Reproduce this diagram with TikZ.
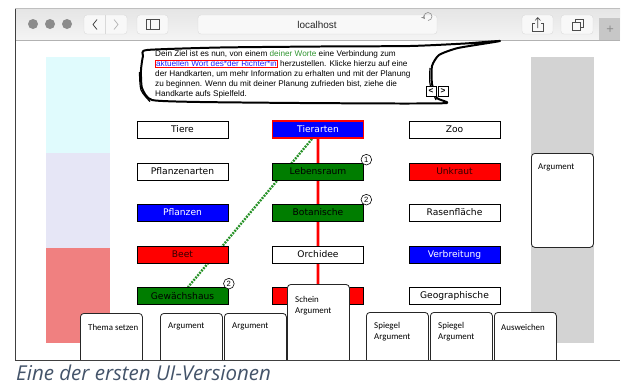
\documentclass[tikz,border=0pt]{standalone}
\usepackage{fontspec}
\setmainfont{Liberation Sans}
\newfontfamily\boxfont{DejaVu Sans}
\newfontfamily\cardfont{Carlito}
\newfontfamily\captionfont{Open Sans}
\usetikzlibrary{shadows}

\definecolor{wordblue}{RGB}{0,0,255}
\definecolor{wordred}{RGB}{255,0,0}
\definecolor{wordgreen}{RGB}{0,125,0}
\definecolor{hintgreen}{RGB}{50,150,50}
\definecolor{hintblue}{RGB}{30,30,255}
\definecolor{topiccol}{RGB}{224,251,253}
\definecolor{argcol}{RGB}{230,230,246}
\definecolor{attackcol}{RGB}{240,128,128}
\definecolor{handcol}{RGB}{211,211,211}
\definecolor{barcol}{RGB}{222,222,222}
\definecolor{btncol}{RGB}{248,248,248}
\definecolor{captioncol}{RGB}{68,84,106}

\pgfdeclarelayer{back}
\pgfdeclarelayer{links}
\pgfsetlayers{back,links,main}

\begin{document}
\begin{tikzpicture}[x=0.03cm,y=-0.03cm]
	\tikzstyle{word}=[draw=black,line width=0.6pt,minimum width=2.73cm,minimum height=0.51cm,inner sep=0pt,font=\boxfont\fontsize{7.8}{8}\selectfont,drop shadow={shadow xshift=0.6pt,shadow yshift=-0.7pt,opacity=0.45}]
	\tikzstyle{wwhite}=[word,fill=white]
	\tikzstyle{wblue}=[word,fill=wordblue,text=white]
	\tikzstyle{wred}=[word,fill=wordred,text=black!80!red]
	\tikzstyle{wgreen}=[word,fill=wordgreen,text=black]
	\tikzstyle{badge}=[circle,draw=black,fill=white,line width=0.5pt,inner sep=0pt,minimum size=0.32cm,font=\fontsize{6.5}{7}\selectfont]
	\tikzstyle{card}=[draw=black!85,fill=white,line width=0.7pt,rounded corners=3pt,minimum width=1.86cm,inner sep=0pt,anchor=north west]
	\tikzstyle{cardtext}=[anchor=north west,inner sep=0pt,align=left,font=\cardfont\fontsize{7.6}{9.4}\selectfont]
	\tikzstyle{btn}=[fill=btncol,draw=black!15,line width=0.3pt,rounded corners=2.5pt]
	\tikzstyle{navbtn}=[draw=black,fill=white,line width=0.6pt,inner sep=0pt,minimum size=0.3cm,font=\bfseries\fontsize{7}{7}\selectfont]

	\useasboundingbox (0,0) rectangle (628,387);

	\begin{pgfonlayer}{back}
		\fill[white] (0,0) rectangle (628,387);
		% browser window
		\fill[top color=barcol!80,bottom color=barcol!110!black] (15,8) rectangle (620,40);
		\fill[black!22] (599,18) rectangle (620,40);
		\draw[black!30,line width=0.4pt] (15,40) -- (620,40);
		\draw[black!75,line width=0.6pt] (15,8) -- (15,360) -- (620,360);
		\draw[black!25,line width=0.4pt] (15,8) -- (620,8);
		% side columns
		\fill[topiccol] (46,57) rectangle (110,153);
		\fill[argcol] (46,153) rectangle (110,248);
		\fill[attackcol] (46,248) rectangle (110,343);
		\fill[handcol] (531,57) rectangle (594,343);
	\end{pgfonlayer}

	% toolbar
	\foreach \x in {33,50,67}
		\fill[black!45] (\x,24) circle (5);
	\draw[btn] (84,15) rectangle (127,34);
	\draw[black!15,line width=0.4pt] (105.5,15) -- (105.5,34);
	\draw[black!80,line width=0.6pt] (97,19.5) -- (93,24.5) -- (97,29.5);
	\draw[black!30,line width=0.6pt] (114,19.5) -- (118,24.5) -- (114,29.5);
	\draw[btn] (137,15) rectangle (168,34);
	\draw[black!70,line width=0.5pt] (146.5,19.5) rectangle (159,29.5) (150.5,19.5) -- (150.5,29.5);
	\draw[btn] (198,15) rectangle (437,34);
	\node[inner sep=0pt,font=\fontsize{8.5}{9}\selectfont,text=black!85] (url) at (317,25) {localhost};
	\draw[black!45,line width=0.5pt,->,>=stealth] (428,20.5) arc (90:-220:4);
	\draw[btn] (522,15) rectangle (553,34);
	\draw[black!70,line width=0.5pt] (534.5,23) -- (532.5,23) -- (532.5,31.5) -- (543,31.5) -- (543,23) -- (541,23);
	\draw[black!70,line width=0.5pt] (537.75,28) -- (537.75,17.5) (535,20.5) -- (537.75,17.5) -- (540.5,20.5);
	\draw[btn] (561,15) rectangle (593,34);
	\draw[black!70,line width=0.5pt] (572,22) rectangle (580.5,30.5);
	\draw[black!70,line width=0.5pt] (575,22) -- (575,19) -- (583.5,19) -- (583.5,27.5) -- (580.5,27.5);
	\node[inner sep=0pt,font=\fontsize{11}{11}\selectfont,text=black!45] (newtab) at (610,30) {+};

	% speech bubble
	\draw[line width=1.7pt,line join=round,fill=white] plot[smooth cycle,tension=0.35] coordinates {(147,50) (220,47.5) (320,46.5) (410,46) (465,43.5) (500,41) (458,48) (439,55) (432,66) (432,84) (437,98) (447,103) (400,103.5) (300,103) (200,102) (152,100) (142,88) (141,70) (143,56)};
	\draw[line width=1pt] plot[smooth,tension=0.5] coordinates {(150,101.5) (141,90) (139.5,72)};
	\draw[line width=1pt] plot[smooth,tension=0.5] coordinates {(430,68) (430,84) (436,100)};
	\node[anchor=north west,inner sep=0pt,align=left,font=\fontsize{7}{8.4}\selectfont] (hint) at (155,50.5)
		{Dein Ziel ist es nun, von einem \textcolor{hintgreen}{deiner Worte} eine Verbindung zum\\
		{\fboxsep=0.3pt\fboxrule=0.5pt\fcolorbox{wordred}{white}{\textcolor{hintblue}{aktuellen Wort des*der Richter*in}}} herzustellen. Klicke hierzu auf eine\\
		der Handkarten, um mehr Information zu erhalten und mit der Planung\\
		zu beginnen. Wenn du mit deiner Planung zufrieden bist, ziehe die\\
		Handkarte aufs Spielfeld.};
	\node[navbtn] (prev) at (431,91) {<};
	\node[navbtn] (next) at (443,91) {>};

	% words
	\node[wwhite] (b11) at (182.5,129.5) {Tiere};
	\node[wwhite] (b12) at (182.5,171.5) {Pflanzenarten};
	\node[wblue] (b13) at (182.5,212.5) {Pflanzen};
	\node[wred] (b14) at (182.5,254.5) {Beet};
	\node[wgreen] (b15) at (182.5,296) {Gewächshaus};

	\node[wblue,draw=wordred,line width=1.5pt] (b21) at (318,129.5) {Tierarten};
	\node[wgreen] (b22) at (318,171.5) {Lebensraum};
	\node[wgreen] (b23) at (318,212.5) {Botanische};
	\node[wwhite] (b24) at (318,254.5) {Orchidee};
	\node[wred] (b25) at (318,296) {};

	\node[wwhite] (b31) at (454.5,129.5) {Zoo};
	\node[wred] (b32) at (454.5,171.5) {Unkraut};
	\node[wwhite] (b33) at (454.5,212.5) {Rasenfläche};
	\node[wblue] (b34) at (454.5,254.5) {Verbreitung};
	\node[wwhite] (b35) at (454.5,296) {Geographische};

	\begin{pgfonlayer}{links}
		\draw[red!35,line width=3.4pt] (b21) -- (b25);
		\draw[wordred,line width=1.7pt] (b21) -- (b25);
		\draw[wordgreen!85!white,line width=2pt,dash pattern=on 1.6pt off 1pt] ([shift={(-6,0)}]b21.south) -- ([shift={(5.5,0)}]b15.north);
	\end{pgfonlayer}

	\node[badge] (n1) at ([shift={(2.5,-3)}]b22.north east) {1};
	\node[badge] (n2) at ([shift={(2.5,-4)}]b23.north east) {2};
	\node[badge] (n3) at ([shift={(0.5,-3.5)}]b15.north east) {2};

	% hand cards
	\node[card,minimum height=2.82cm] (slot) at (531,153) {};
	\node[cardtext] (slott) at ([shift={(7,11)}]slot.north west) {Argument};
	\begin{scope}
		\clip (15,40) rectangle (620,360);
		\node[card,minimum height=1.7cm] (c1) at (80,313) {};
		\node[card,minimum height=1.7cm] (c2) at (160,313) {};
		\node[card,minimum height=1.7cm] (c3) at (224,313) {};
		\node[card,minimum height=2.6cm] (c4) at (287,284) {};
		\node[card,minimum height=1.7cm] (c5) at (366,312) {};
		\node[card,minimum height=1.7cm] (c6) at (430,312) {};
		\node[card,minimum height=1.7cm] (c7) at (494,312) {};
	\end{scope}
	\node[cardtext] (c1t) at ([shift={(8,11)}]c1.north west) {Thema setzen};
	\node[cardtext] (c2t) at ([shift={(8,10)}]c2.north west) {Argument};
	\node[cardtext] (c3t) at ([shift={(8,10)}]c3.north west) {Argument};
	\node[cardtext] (c4t) at ([shift={(8,12)}]c4.north west) {Schein\\Argument};
	\node[cardtext] (c5t) at ([shift={(8,10)}]c5.north west) {Spiegel\\Argument};
	\node[cardtext] (c6t) at ([shift={(8,10)}]c6.north west) {Spiegel\\Argument};
	\node[cardtext] (c7t) at ([shift={(7,12)}]c7.north west) {Ausweichen};
	\draw[black!75,line width=0.6pt] (15,360) -- (620,360);

	\node[anchor=west,inner sep=0pt,text=captioncol,font=\captionfont\itshape\fontsize{17.5}{18}\selectfont] (caption) at (16,373) {Eine der ersten UI-Versionen};
\end{tikzpicture}
\end{document}
